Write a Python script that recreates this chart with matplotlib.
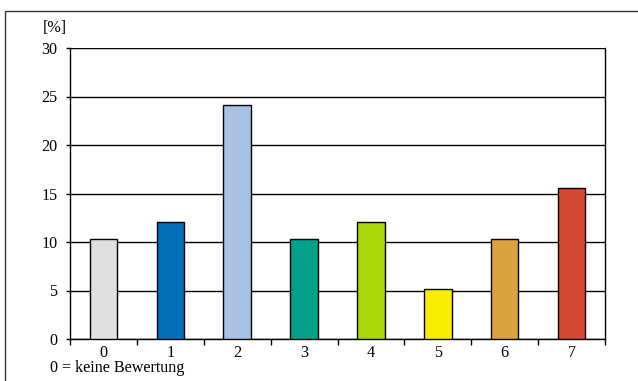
import matplotlib.pyplot as plt
from matplotlib.patches import Rectangle

categories = ["0", "1", "2", "3", "4", "5", "6", "7"]
values = [10.34, 12.07, 24.14, 10.34, 12.07, 5.17, 10.34, 15.52]
colors = ["#E0E0E0", "#0070B8", "#A9C2E4", "#00A08A",
          "#A8D608", "#F8EE00", "#DDA240", "#D64A33"]

plt.rcParams['font.family'] = ['Liberation Serif', 'DejaVu Serif']
fs = 11.6

fig = plt.figure(figsize=(6.38, 3.81), dpi=100)
W, H = 638.0, 381.0
ax = fig.add_axes([70 / W, 1 - 339 / H, (605 - 70) / W, (339 - 48) / H])

x = list(range(len(categories)))
ax.bar(x, values, width=0.41, color=colors, edgecolor="black", linewidth=1.0, zorder=3)

ax.set_xlim(-0.5, len(categories) - 0.5)
ax.set_ylim(0, 30)
ax.set_yticks(range(0, 31, 5))
ax.yaxis.grid(True, color="black", linewidth=1.0, zorder=0)
ax.set_axisbelow(True)

ax.set_xticks(x)
ax.set_xticklabels(categories, fontsize=fs)
ax.set_xticks([i - 0.5 for i in range(len(categories) + 1)], minor=True)
ax.tick_params(axis="x", which="major", length=0, pad=4)
ax.tick_params(axis="x", which="minor", length=4, width=1.0, direction="out")
ax.tick_params(axis="y", length=3, width=1.0, labelsize=fs, pad=6)

for s in ["left", "bottom", "right"]:
    ax.spines[s].set_linewidth(1.0)
ax.spines["top"].set_visible(False)

fig.text(43 / W, 1 - 28 / H, "[%]", fontsize=fs, va="center", ha="left")
fig.text(50 / W, 1 - 368 / H, "0 = keine Bewertung", fontsize=fs, va="center", ha="left")

# outer chart frame (right/bottom edges run off the picture)
fig.patches.append(Rectangle((5 / W, -0.05), 1.1, 1 - 11 / H + 0.05, transform=fig.transFigure,
                             fill=False, edgecolor="#333333", linewidth=1.0))

fig.savefig("out.png", dpi=100)
